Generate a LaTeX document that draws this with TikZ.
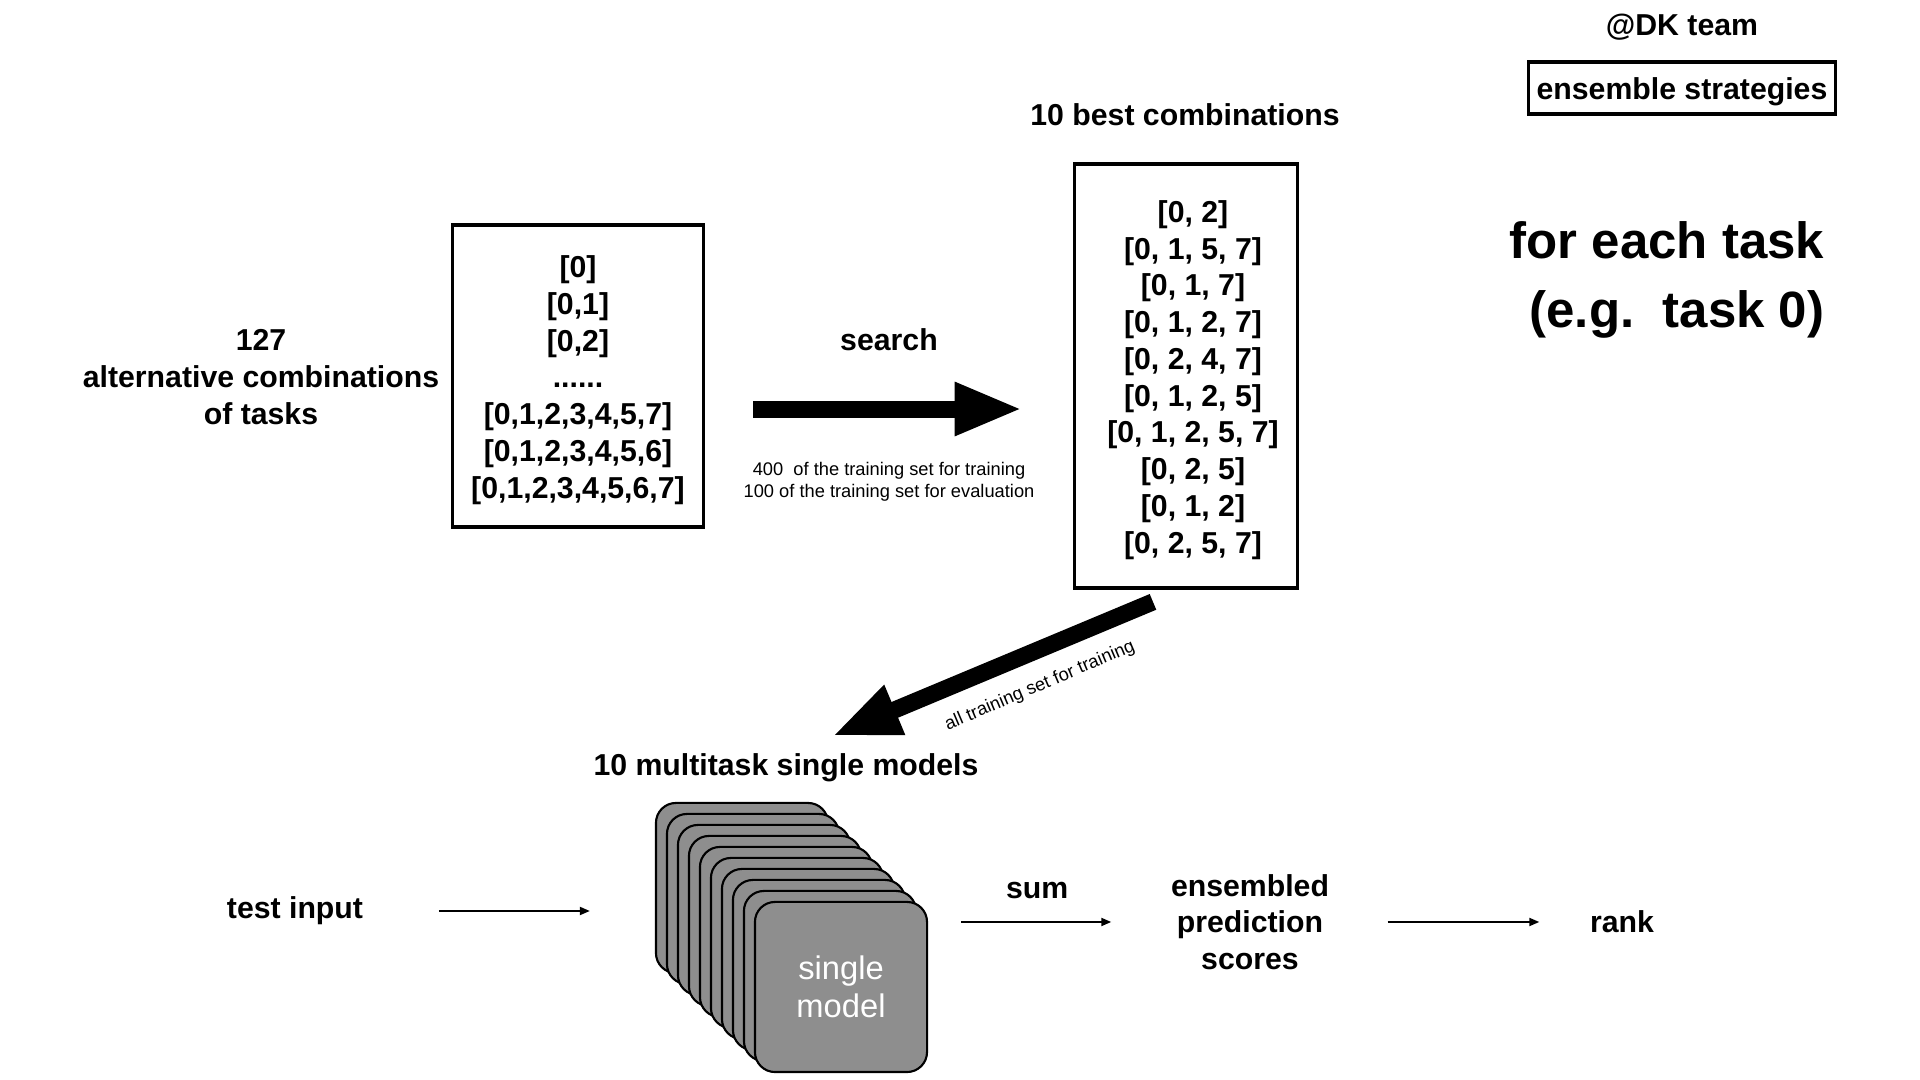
\documentclass[tikz,border=0pt]{standalone}
\usepackage{fontspec}
\setmainfont{Liberation Sans}
\usetikzlibrary{arrows.meta}

\definecolor{cardgray}{HTML}{8E8E8E}

\tikzset{
    lbl/.style={font=\bfseries\fontsize{8.6}{10.45}\selectfont, align=center, inner sep=0pt},
    note/.style={font=\fontsize{5.2}{6.2}\selectfont, align=center, inner sep=0pt},
    listbox/.style={draw, line width=1pt, lbl},
    card/.style={draw, line width=0.6pt, fill=cardgray, rounded corners=0.2cm,
        minimum width=1.72cm, minimum height=1.70cm, inner sep=0pt},
    bigarrow/.style={line width=0.17cm, -{Triangle[length=0.68cm, width=0.49cm]}},
    thinarrow/.style={line width=0.55pt, -{Triangle[length=0.1cm, width=0.08cm]}}
}

\begin{document}
\begin{tikzpicture}[x=0.01cm, y=-0.01cm]
    \useasboundingbox (0, 0) rectangle (1920, 1080);

    \node[lbl] (team) at (1682, 27) {@DK team};
    \node[listbox, minimum width=3.07cm, minimum height=0.52cm, text height=0.24cm, text depth=0pt] (strat) at (1682, 88) {ensemble strategies};
    \node[font=\bfseries\fontsize{14.5}{19.5}\selectfont, align=right, inner sep=0pt] (each) at (1667, 280)
        {for each task\\(e.g.\ \ task 0)};

    \node[lbl] (alt) at (261, 377) {127\\alternative combinations\\of tasks};
    \node[listbox, minimum width=2.51cm, minimum height=3.02cm] (all) at (578, 376) {};
    \node[lbl] (alllist) at (578, 380) {
        {[0]}\\{[0,1]}\\{[0,2]}\\......\\{[0,1,2,3,4,5,7]}\\{[0,1,2,3,4,5,6]}\\{[0,1,2,3,4,5,6,7]}
    };

    \node[lbl] (besttitle) at (1185, 115) {10 best combinations};
    \node[listbox, minimum width=2.23cm, minimum height=4.24cm] (best) at (1186, 376) {};
    \node[lbl] (bestlist) at (1193, 380) {
        {[0, 2]}\\{[0, 1, 5, 7]}\\{[0, 1, 7]}\\{[0, 1, 2, 7]}\\{[0, 2, 4, 7]}\\
        {[0, 1, 2, 5]}\\{[0, 1, 2, 5, 7]}\\{[0, 2, 5]}\\{[0, 1, 2]}\\{[0, 2, 5, 7]}
    };

    \draw[bigarrow, shorten <=0.48cm, shorten >=0.5cm] ([yshift=-0.33cm]all.east) -- ([yshift=-0.33cm]best.west)
        node[midway, lbl, above=0.50cm] (search) {search}
        node[midway, note, below=0.45cm] (split) {400\ \ of the training set for training\\100 of the training set for evaluation};

    \node[lbl] (multi) at (786, 768) {10 multitask single models};
    \draw[bigarrow] ([xshift=-0.33cm, yshift=-0.12cm]best.south) -- ([xshift=0.46cm, yshift=0.17cm]multi.north);
    \node[note, rotate=23] (alltrain) at (1040, 686) {all training set for training};

    % stack of single models, back to front
    \foreach \i in {0,...,8}
        \node[card] (m\i) at (742+11*\i, 888+11*\i) {};
    \node[card, text=white, font=\fontsize{9.3}{10.8}\selectfont, align=center] (m9) at (841, 987) {single\\model};

    \node[lbl] (test) at (295, 911) {test input};
    \draw[thinarrow, shorten <=0.75cm, shorten >=0.65cm] (test.east) -- (test.east -| m0.west);

    \node[lbl] (ens) at (1250, 922) {ensembled\\prediction\\scores};
    \draw[thinarrow, shorten <=0.33cm, shorten >=0.59cm] (m9.east |- ens.west) -- (ens.west)
        node[pos=0.45, lbl, above=0.22cm] (sum) {sum};

    \node[lbl] (rank) at (1622, 922) {rank};
    \draw[thinarrow, shorten <=0.58cm, shorten >=0.5cm] (ens.east) -- (rank.west);
\end{tikzpicture}
\end{document}
